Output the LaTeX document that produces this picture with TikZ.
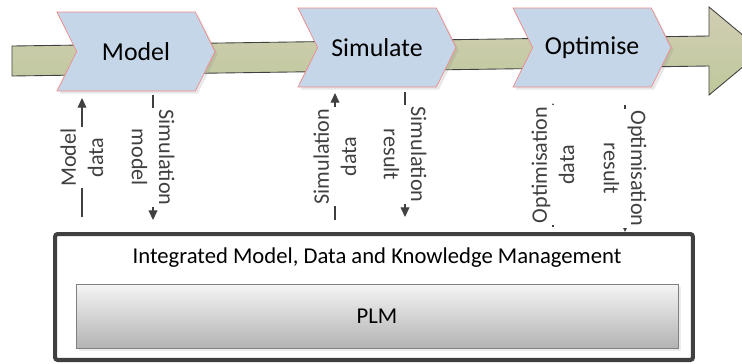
\documentclass[tikz,border=0pt]{standalone}
\usepackage{fontspec}
\setmainfont{Carlito}
\usepackage{xcolor}
\usetikzlibrary{
    shapes.symbols,
    arrows.meta,
    positioning,
    shadows,
    calc
}
\definecolor{chevblue}{RGB}{197, 214, 232}
\definecolor{chevred}{RGB}{238, 140, 140}
\definecolor{bandtop}{RGB}{210, 206, 180}
\definecolor{bandbot}{RGB}{190, 200, 155}
\definecolor{linegray}{RGB}{64, 64, 64}

\begin{document}
\begin{tikzpicture}[
        x=0.02cm, y=-0.02cm,
        chev/.style={signal, signal to=east, signal from=west, signal pointer angle=127,
            draw=chevred, fill=chevblue, minimum width=3.16cm, minimum height=1.58cm,
            drop shadow={opacity=0.18, shadow xshift=1.5pt, shadow yshift=-1.5pt},
            font=\fontsize{14.7}{17}\selectfont},
        lbl/.style={fill=white, align=center, inner sep=1pt,
            font=\fontsize{12.6}{15.5}\selectfont},
        arrow/.style={-{Triangle[length=5.5pt, width=5pt]}, linegray, line width=0.7pt}
    ]
        \useasboundingbox (0,0) rectangle (742,363);

        % Process band
        \draw[linegray, line width=0.5pt, top color=bandtop, bottom color=bandbot]
            (12,46) -- (709,36) -- (709,7) -- (762,51) -- (709,95) -- (709,66) -- (12,76) -- cycle;

        % Steps
        \node[chev] (model) at (136,51.5) {Model};
        \node[chev] (simulate) at (377,47.5) {Simulate};
        \node[chev] (optimise) at (592,47.5) {Optimise};

        % Management box
        \node[draw=linegray, line width=2.3pt, rounded corners=1.5pt, fill=white,
            minimum width=12.76cm, minimum height=2.52cm] (mgmt) at (374,297) {};
        \node[font=\fontsize{12.9}{15}\selectfont] (title) at (377,258)
            {Integrated Model, Data and Knowledge Management};
        \node[draw=gray, top color=gray!8, bottom color=gray!60,
            drop shadow={opacity=0.15, shadow xshift=1.5pt, shadow yshift=-1.5pt},
            minimum width=12.04cm, minimum height=1.28cm,
            font=\fontsize{12.9}{15}\selectfont] (plm) at (377,316) {PLM};

        % End points
        \coordinate (mdA) at (82,217);   \coordinate (mdB) at (82,98);
        \coordinate (smA) at (153,95);   \coordinate (smB) at (153,220);
        \coordinate (sdA) at (335,220);  \coordinate (sdB) at (335,93);
        \coordinate (srA) at (405,92);   \coordinate (srB) at (405,217);
        \coordinate (odA) at (553,227);  \coordinate (odB) at (553,103);
        \coordinate (orA) at (625,105);  \coordinate (orB) at (mgmt.north -| orA);

        % Arrows
        \draw[arrow] (mdA) -- (mdB) node[lbl, midway, rotate=90] {Model\\data};
        \draw[arrow] (smA) -- (smB) node[lbl, midway, rotate=-90] {Simulation\\model};
        \draw[arrow] (sdA) -- (sdB) node[lbl, midway, rotate=90] {Simulation\\data};
        \draw[arrow] (srA) -- (srB) node[lbl, midway, rotate=-90] {Simulation\\result};
        \draw[arrow] (odA) -- (odB) node[lbl, midway, rotate=90] {Optimisation\\data};
        \draw[arrow] (orA) -- (orB) node[lbl, midway, rotate=-90] {Optimisation\\result};
    \end{tikzpicture}
\end{document}
